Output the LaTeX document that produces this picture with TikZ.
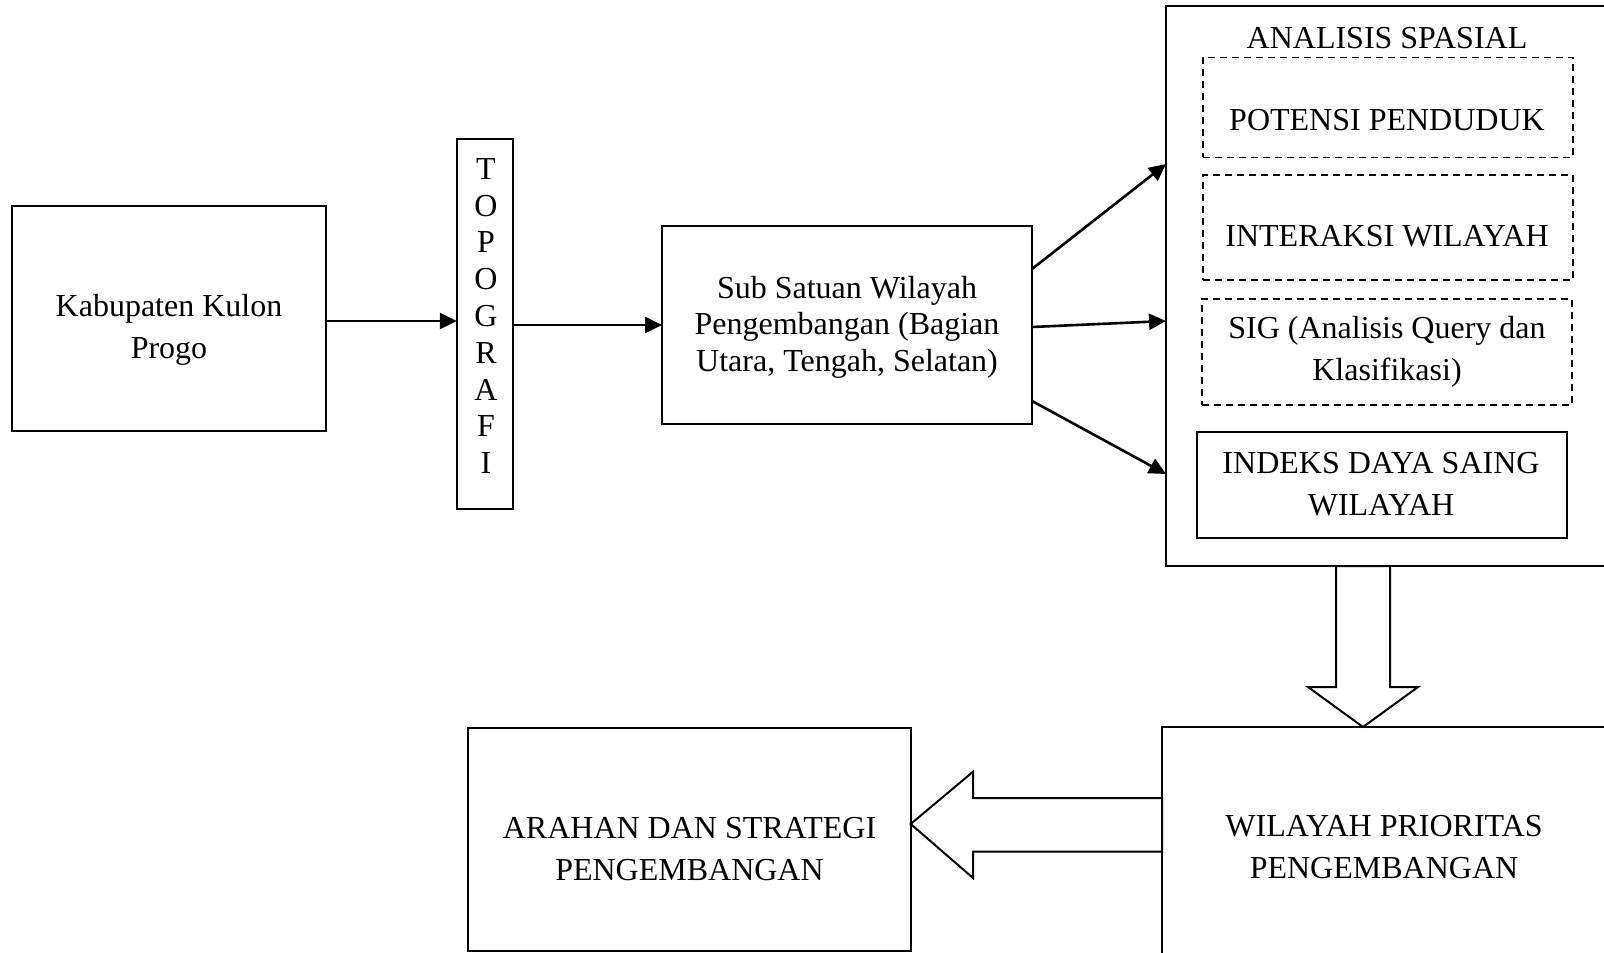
\documentclass[tikz,border=0pt]{standalone}
\usepackage{fontspec}
\setmainfont{Liberation Serif}
\usetikzlibrary{arrows.meta}
\begin{document}
\begin{tikzpicture}[x=0.5pt,y=-0.5pt,
  box/.style={draw,line width=1pt,inner sep=0pt,outer sep=0pt},
  dbox/.style={draw,line width=0.75pt,dash pattern=on 3.5pt off 2.5pt,inner sep=0pt,outer sep=0pt},
  txt/.style={align=center,inner sep=0pt,font=\fontsize{16}{20.75}\selectfont},
  arr/.style={line width=1.3pt,-{Triangle[length=8.5pt,width=8pt]}},
  blk/.style={draw,line width=1pt,fill=white,line join=miter}]
\useasboundingbox (0,0) rectangle (1604,952);
\clip (0,0) rectangle (1604,952);

% left chain
\node[box,minimum width=157pt,minimum height=112.5pt] (kab) at (169,318.5) {};
\node[txt] (kabt) at (169,330) {Kabupaten Kulon\\Progo};

\node[box,minimum width=28.25pt,minimum height=185.25pt] (topo) at (485,324) {};
\node[txt,font=\fontsize{16}{18.4}\selectfont] (topot) at (486,316) {T\\O\\P\\O\\G\\R\\A\\F\\I};

\node[box,minimum width=185pt,minimum height=98.75pt] (sub) at (847,325) {};
\node[txt,font=\fontsize{16}{18.25}\selectfont] (subt) at (847,327) {Sub Satuan Wilayah\\Pengembangan (Bagian\\Utara, Tengah, Selatan)};

% analysis block
\node[box,minimum width=267pt,minimum height=280pt] (big) at (1433,286) {};
\node[txt] (anat) at (1387,38) {ANALISIS SPASIAL};

\node[dbox,minimum width=185pt,minimum height=50pt] (d1) at (1388,107.5) {};
\node[txt] (d1t) at (1387,120) {POTENSI PENDUDUK};

\node[dbox,minimum width=185pt,minimum height=52.5pt] (d2) at (1388,227.5) {};
\node[txt] (d2t) at (1387,236) {INTERAKSI WILAYAH};

\node[dbox,minimum width=185pt,minimum height=53pt] (d3) at (1387,352) {};
\node[txt] (d3t) at (1387,352) {SIG (Analisis Query dan\\Klasifikasi)};

\node[box,minimum width=185pt,minimum height=53pt] (idx) at (1382,485) {};
\node[txt] (idxt) at (1381,484) {INDEKS DAYA SAING\\WILAYAH};

% bottom boxes
\node[box,minimum width=269pt,minimum height=186.5pt] (wil) at (1431,913.5) {};
\node[txt] (wilt) at (1384,847) {WILAYAH PRIORITAS\\PENGEMBANGAN};

\node[box,minimum width=221.35pt,minimum height=111.5pt] (arh) at (689.35,839.5) {};
\node[txt] (arht) at (689.5,849) {ARAHAN DAN STRATEGI\\PENGEMBANGAN};

% connectors
\draw[arr] (kab.east |- 0,321) -- (topo.west |- 0,321);
\draw[arr] (topo.east |- sub.west) -- (sub.west);
\draw[arr] (sub.east |- 0,269) -- (big.west |- 0,164);
\draw[arr] (sub.east |- 0,327) -- (big.west |- 0,321);
\draw[arr] (sub.east |- 0,401) -- (big.west |- 0,474);

% block arrows
\draw[blk] (big.south -| 1336,0) -- (1336,687) -- (1308,687) -- (wil.north -| 1363,0)
  -- (1418,687) -- (1390,687) -- (big.south -| 1390,0) -- cycle;
\draw[blk] (wil.west |- 0,798) -- (973,798) -- (973,771.7) -- (arh.east |- 0,824)
  -- (973,878) -- (973,851.7) -- (wil.west |- 0,851.7) -- cycle;
\end{tikzpicture}
\end{document}
